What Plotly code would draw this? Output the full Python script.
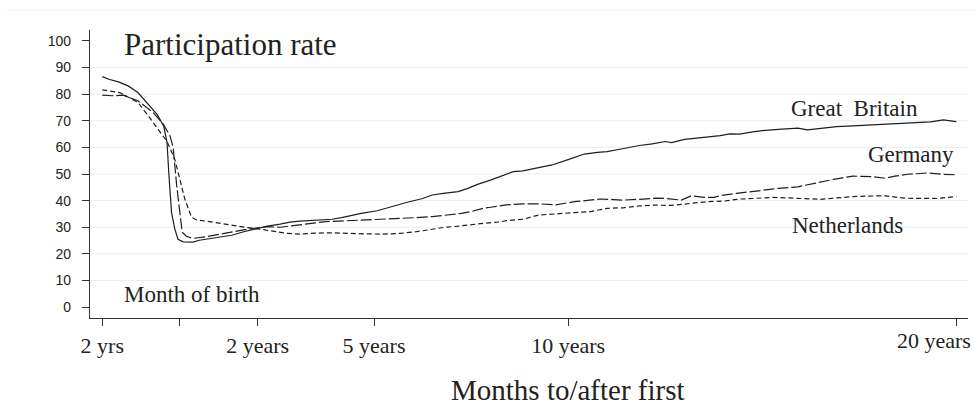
import plotly.graph_objects as go

# ---------------- data ----------------
gb_months = [-24, -22, -19, -16, -13, -10, -7, -5, -4, -3.4, -2.6, -1.6, -0.6, 1, 4, 6, 10, 13, 16, 20,
             24, 27, 31, 34, 37, 41, 44, 47, 50, 53, 56, 61, 65, 70, 75, 78, 82, 86, 89, 92,
             96, 99, 103, 106, 110, 115, 120, 125, 129, 132, 136, 142, 146, 150, 152, 156, 159, 163, 167, 170,
             173, 177, 180, 185, 191, 194, 198, 203, 208, 213, 218, 224, 228, 232, 236, 240]
gb_values = [86.6, 85.6, 84.6, 83.1, 80.6, 76.5, 72.3, 68.0, 62.0, 49.5, 35.6, 29.4, 25.5, 24.5, 24.4, 25.1, 25.8, 26.5, 27.0, 28.4,
             29.6, 30.4, 31.2, 31.9, 32.3, 32.5, 32.7, 33.0, 33.6, 34.4, 35.2, 36.2, 37.7, 39.3, 40.8, 42.1, 42.8, 43.4, 44.6, 46.1,
             47.7, 49.0, 50.9, 51.2, 52.2, 53.4, 55.4, 57.5, 58.1, 58.4, 59.3, 60.7, 61.3, 62.2, 61.8, 63.0, 63.4, 63.9, 64.4, 65.1,
             65.0, 65.8, 66.3, 66.8, 67.2, 66.6, 67.2, 67.8, 68.1, 68.4, 68.6, 69.0, 69.4, 69.6, 70.3, 69.7]

de_months = [-24, -21, -17.5, -13, -8.3, -5.2, -3.1, -2.1, -1.0, 0, 0.7, 2, 4, 8, 13, 17, 21, 24, 27, 31,
             34, 37, 41, 45, 49, 53, 58, 63, 68, 73, 78, 83, 87, 90, 94, 96, 99, 101, 106, 111,
             116, 119, 122, 126, 130, 134, 137, 142, 147, 150, 153, 155, 158, 162, 165, 168, 172, 176, 180, 185,
             191, 194, 198, 203, 208, 214, 218, 221, 225, 231, 236, 240]
de_values = [79.6, 79.4, 79.6, 77.5, 73.1, 68.8, 64.4, 60.0, 45.6, 34.4, 28.1, 26.6, 25.8, 26.4, 27.6, 28.5, 29.3, 29.8, 30.2, 30.0,
             30.5, 30.8, 31.5, 32.1, 32.3, 32.5, 32.7, 33.0, 33.2, 33.6, 34.0, 34.6, 35.2, 35.9, 37.2, 37.5, 38.1, 38.4, 38.8, 38.8,
             38.4, 39.0, 39.6, 40.1, 40.6, 40.4, 40.2, 40.5, 40.9, 40.8, 40.6, 40.2, 41.8, 41.2, 41.2, 42.1, 42.7, 43.3, 44.0, 44.6,
             45.2, 46.0, 47.1, 48.2, 49.2, 49.0, 48.4, 49.2, 49.9, 50.4, 49.9, 49.7]

nl_months = [-24, -18.6, -13, -9.8, -5.7, -4.1, -1.6, 0, 1.5, 3.6, 5, 8, 12, 16, 20, 24, 27, 30, 33, 37,
             42, 47, 53, 58, 63, 68, 73, 76, 79, 82, 86, 90, 94, 99, 101, 106, 109, 111, 116, 122,
             127, 132, 137, 142, 146, 152, 157, 163, 168, 173, 177, 183, 188, 193, 198, 203, 208, 213, 218, 224,
             229, 234, 240]
nl_values = [81.6, 80.6, 76.9, 71.9, 65.0, 62.5, 55.6, 48.1, 40.6, 33.7, 32.8, 32.3, 31.5, 30.7, 30.0, 29.4, 28.9, 28.2, 27.7, 27.4,
             27.8, 27.9, 27.6, 27.5, 27.4, 27.7, 28.3, 28.9, 29.6, 30.0, 30.4, 31.0, 31.5, 32.0, 32.5, 33.0, 33.8, 34.6, 35.0, 35.5,
             35.9, 37.1, 37.3, 38.0, 38.3, 38.2, 38.8, 39.6, 39.8, 40.6, 40.8, 41.2, 41.0, 40.8, 40.5, 41.0, 41.5, 41.7, 41.8, 40.9,
             40.8, 40.8, 41.5]

x_tickvals = [-24, 0, 24, 60, 120, 240]
x_ticktext = ["2 yrs", "", "2 years", "5 years", "10 years", ""]
last_tick_label = "20 years"
y_tickvals = [0, 10, 20, 30, 40, 50, 60, 70, 80, 90, 100]
grid_values = [10, 20, 30, 40, 50, 60, 70, 80, 90]

# ---------------- figure ----------------
SERIF = "Liberation Serif"
LINE = "#1e1e1e"
GRID = "#e6f0f2"

fig = go.Figure()
fig.add_trace(go.Scatter(x=gb_months, y=gb_values, mode="lines", name="Great Britain",
                         line=dict(color=LINE, width=1.2)))
fig.add_trace(go.Scatter(x=de_months, y=de_values, mode="lines", name="Germany",
                         line=dict(color=LINE, width=1.2, dash="11px,3px")))
fig.add_trace(go.Scatter(x=nl_months, y=nl_values, mode="lines", name="Netherlands",
                         line=dict(color=LINE, width=1.2, dash="5px,3px")))

shapes = []
for g in grid_values:
    shapes.append(dict(type="line", xref="paper", yref="y", x0=0, x1=1, y0=g, y1=g,
                       line=dict(color=GRID, width=1), layer="below"))
# faint outer line at the very top of the graph region
shapes.append(dict(type="line", xref="paper", yref="paper", x0=-0.0945, x1=1.008, y0=1.0694, y1=1.0694,
                   line=dict(color=GRID, width=1), layer="below"))

annotations = [
    dict(text="Participation rate", xref="paper", yref="paper", x=0.0364, y=0.951,
         xanchor="left", yanchor="middle", showarrow=False,
         font=dict(family=SERIF, size=31, color="#222")),
    dict(text="Month of birth", xref="paper", yref="paper", x=0.0364, y=0.08,
         xanchor="left", yanchor="middle", showarrow=False,
         font=dict(family=SERIF, size=23, color="#222")),
    dict(text="Great\u00a0 Britain", xref="paper", yref="paper", x=0.7965, y=0.726,
         xanchor="left", yanchor="middle", showarrow=False,
         font=dict(family=SERIF, size=23, color="#222")),
    dict(text="Germany", xref="paper", yref="paper", x=0.884, y=0.566,
         xanchor="left", yanchor="middle", showarrow=False,
         font=dict(family=SERIF, size=23, color="#222")),
    dict(text="Netherlands", xref="paper", yref="paper", x=0.7975, y=0.321,
         xanchor="left", yanchor="middle", showarrow=False,
         font=dict(family=SERIF, size=23, color="#222")),
    dict(text="Months to/after first", xref="paper", yref="paper", x=0.544, y=-0.25,
         xanchor="center", yanchor="middle", showarrow=False,
         font=dict(family=SERIF, size=29, color="#222")),
    dict(text=last_tick_label, xref="x", yref="paper", x=x_tickvals[-1], xshift=-22, y=-0.077,
         xanchor="center", yanchor="middle", showarrow=False,
         font=dict(family=SERIF, size=22, color="#222")),
]

fig.update_layout(
    width=975, height=405,
    margin=dict(l=90, r=7, t=30, b=87),
    paper_bgcolor="white", plot_bgcolor="white",
    showlegend=False,
    shapes=shapes,
    annotations=annotations,
    xaxis=dict(range=[-27.8, 243.6], tickvals=x_tickvals, ticktext=x_ticktext,
               showgrid=False, zeroline=False, showline=True, linecolor="#333", linewidth=1.3,
               ticks="outside", ticklen=7, tickcolor="#333", tickwidth=1.2,
               tickfont=dict(family=SERIF, size=22, color="#222")),
    yaxis=dict(range=[-4.1, 104.1], tickvals=y_tickvals,
               showgrid=False, zeroline=False, showline=True, linecolor="#333", linewidth=1.3,
               ticks="outside", ticklen=7, tickcolor="#333", tickwidth=1.2, ticklabelstandoff=8,
               tickfont=dict(family="Liberation Sans", size=14, color="#222")),
)

fig.write_html("out.html")
